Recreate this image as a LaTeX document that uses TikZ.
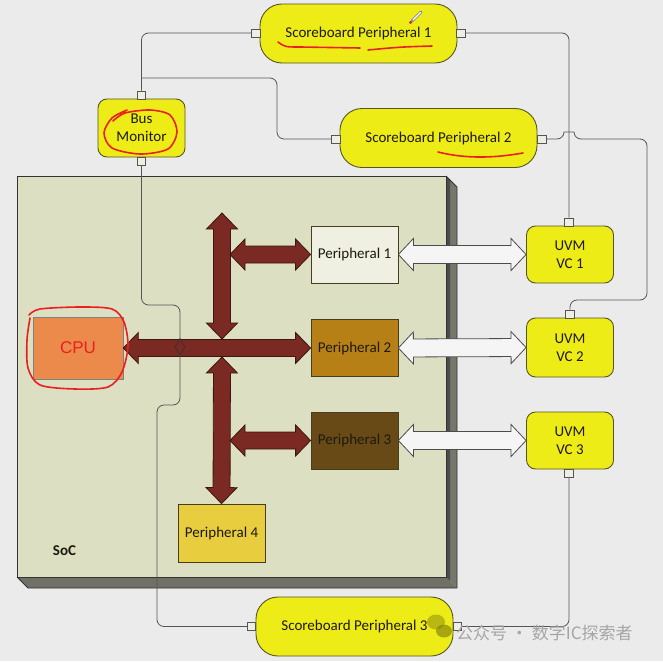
\documentclass[tikz,border=0pt]{standalone}
\usepackage{fontspec}
\setmainfont{Carlito}
\newfontfamily\arialf{Liberation Sans}
\newfontfamily\cjkf{Noto Sans CJK SC}
\usetikzlibrary{calc,shapes.geometric}
\definecolor{bgc}{RGB}{235,235,235}
\definecolor{yel}{RGB}{238,236,22}
\definecolor{yelb}{RGB}{85,85,40}
\definecolor{socface}{RGB}{220,223,193}
\definecolor{socside}{RGB}{118,118,106}
\definecolor{socbot}{RGB}{112,112,102}
\definecolor{pbord}{RGB}{70,60,30}
\definecolor{pone}{RGB}{240,240,226}
\definecolor{ptwo}{RGB}{183,128,22}
\definecolor{pthree}{RGB}{104,74,22}
\definecolor{pfour}{RGB}{232,205,62}
\definecolor{cpuc}{RGB}{236,138,76}
\definecolor{busc}{RGB}{122,42,34}
\definecolor{busb}{RGB}{60,22,16}
\definecolor{redann}{RGB}{232,32,30}
\definecolor{wirec}{RGB}{85,85,85}
\definecolor{txt}{RGB}{30,25,15}
\definecolor{portc}{RGB}{238,238,228}
\definecolor{wmc}{RGB}{165,165,165}
\newcommand\fatarr[6]{%
 \draw[#1] (#2) -- ($($(#2)!#6!(#3)$)!#5!90:(#3)$) -- ($($(#2)!#6!(#3)$)!#4!90:(#3)$)
 -- ($($(#3)!#6!(#2)$)!#4!-90:(#2)$) -- ($($(#3)!#6!(#2)$)!#5!-90:(#2)$) -- (#3)
 -- ($($(#3)!#6!(#2)$)!#5!90:(#2)$) -- ($($(#3)!#6!(#2)$)!#4!90:(#2)$)
 -- ($($(#2)!#6!(#3)$)!#4!-90:(#3)$) -- ($($(#2)!#6!(#3)$)!#5!-90:(#3)$) -- cycle;}
\begin{document}
\begin{tikzpicture}[x=1pt,y=-1pt,
  lbl/.style={font=\fontsize{15}{18}\selectfont, text=txt, align=center, inner sep=0},
  sbox/.style={lbl, draw=yelb, fill=yel, line width=0.9pt, rounded corners=22pt, minimum width=197, minimum height=59},
  ybox/.style={lbl, draw=yelb, fill=yel, line width=0.9pt, rounded corners=9pt, minimum width=87, minimum height=57},
  pbox/.style={lbl, draw=pbord, line width=0.8pt, minimum width=87, minimum height=57},
  port/.style={draw=wirec, fill=portc, line width=0.6pt, minimum width=8.5, minimum height=8, inner sep=0},
  wire/.style={draw=wirec, line width=0.8pt, rounded corners=7pt},
  busarrow/.style={fill=busc, draw=busb, line width=0.8pt, line join=miter},
  whitearrow/.style={fill=white!96!black, draw=black!70, line width=0.8pt, line join=miter},
  ann/.style={draw=redann, line width=1.6pt, line cap=round, line join=round}]
\useasboundingbox (0,0) rectangle (663,661);
\fill[bgc] (0,0) rectangle (663,661);
% SoC block
\fill[socside] (446,176) -- (457,187) -- (457,588) -- (446,577) -- cycle;
\fill[black!70] (446,176) -- (450,180) -- (450,581) -- (446,577) -- cycle;
\fill[socbot] (17,577) -- (446,577) -- (457,588) -- (28,588) -- cycle;
\draw[black!80, line width=0.8pt] (446,176) -- (457,187) -- (457,588) -- (28,588) -- (17,577);
\draw[black!85, line width=1.2pt] (446,176) -- (446,577);
\node[draw=black!80, fill=socface, line width=0.8pt, minimum width=429, minimum height=401, inner sep=0] (soc) at (231.5,376.5) {};
\node[font=\bfseries\fontsize{15}{18}\selectfont, text=txt, inner sep=0] (soclbl) at (64.5,551) {SoC};
% boxes
\node[sbox] (sp1) at (358.5,33.5) {Scoreboard Peripheral 1};
\node[sbox] (sp2) at (438.5,138) {Scoreboard Peripheral 2};
\node[sbox] (sp3) at (354.5,626.5) {Scoreboard Peripheral 3};
\node[ybox, minimum height=58] (bm) at (141.5,128) {Bus\\Monitor};
\node[ybox] (vc1) at (570,254.5) {UVM\\VC 1};
\node[ybox, minimum height=59] (vc2) at (570,347.5) {UVM\\VC 2};
\node[ybox] (vc3) at (570,440.5) {UVM\\VC 3};
\node[pbox, fill=pone] (p1) at (354.5,254.5) {Peripheral 1};
\node[pbox, fill=ptwo] (p2) at (354.5,348) {Peripheral 2};
\node[pbox, fill=pthree] (p3) at (354.5,440.5) {Peripheral 3};
\node[pbox, fill=pfour, minimum height=58] (p4) at (221.5,533) {Peripheral 4};
\node[draw=black!50, fill=cpuc, line width=0.6pt, minimum width=90, minimum height=62, inner sep=0,
  font=\arialf\fontsize{17}{20}\selectfont, text=redann] (cpu) at (78,348) {CPU};
% ports
\node[port] (sp1L) at (256,33) {};
\node[port] (sp1R) at (461,33) {};
\node[port] (sp2L) at (336,139) {};
\node[port] (sp2R) at (542,139) {};
\node[port] (sp3L) at (251.5,626.5) {};
\node[port] (sp3R) at (457.5,626.5) {};
\node[port] (bmT) at (141.5,95) {};
\node[port] (bmB) at (141.5,161) {};
\node[port] (vc1T) at (569,222) {};
\node[port] (vc2T) at (570,314) {};
\node[port] (vc3B) at (569,473.5) {};
% bus arrows
\coordinate (busTop) at (222,213);
\coordinate (busUp) at (222,339);
\coordinate (busDn) at (222,357);
\coordinate (b1) at (230,254.5);
\coordinate (b3) at (230,440.5);
\fatarr{busarrow}{cpu.east}{p2.west}{8.5pt}{15.5pt}{15pt}
\fatarr{busarrow}{busTop}{busUp}{8.5pt}{15.5pt}{16pt}
\fatarr{busarrow}{busDn}{p4.north}{8.5pt}{15.5pt}{16pt}
\fatarr{busarrow}{b1}{p1.west}{8.5pt}{15.5pt}{15pt}
\fatarr{busarrow}{b3}{p3.west}{8.5pt}{15.5pt}{15pt}
% white arrows
\fatarr{whitearrow}{p1.east}{vc1.west}{9pt}{16pt}{15pt}
\fatarr{whitearrow}{p2.east}{vc2.west}{9pt}{16pt}{15pt}
\fatarr{whitearrow}{p3.east}{vc3.west}{9pt}{16pt}{15pt}
% wires
\coordinate (j1) at (141.5,78);
\draw[wire] (bmT.north) |- (sp1L.west);
\draw[wire] (j1) -- (277,78) -- (277,139) -- (sp2L.west);
\draw[wire] (sp1R.east) -| (vc1T.north);
\draw[wire] (sp2R.east) -- (564,139) .. controls (564,132) and (574,132) .. (574,139)
  -- (647,139) -- (647,300) -- (570,300) -- (vc2T.north);
\draw[wire] (vc3B.south) |- (sp3R.east);
\draw[wire] (bmB.south) -- (141.5,305) -- (180,305) -- (180,405) -- (157,405) -- (157,626.5) -- (sp3L.west);
\node[diamond, draw=black!80, fill=busc, line width=0.7pt, inner sep=0, minimum width=10, minimum height=17] (dia) at (180,347) {};
% red annotations
\draw[ann] (278,42) .. controls (285,47) .. (300,47) -- (360,48);
\draw[ann] (368,50) .. controls (400,47) .. (432,46);
\draw[ann] plot[smooth] coordinates {(127,110) (112,118) (104,133) (112,148) (140,154) (168,149) (177,132) (170,115) (150,110) (125,113) (113,121)};
\draw[ann] (438,152) .. controls (470,160) and (500,157) .. (523,153);
\draw[ann] plot[smooth] coordinates {(29,315) (40,309) (80,307) (112,309) (124,322) (128,346) (122,372) (108,387) (75,389) (40,385) (28,368) (27,340) (30,318)};
% pen cursor
\draw[line width=3pt, black!45, line cap=round] (412,21) -- (421,12);
\draw[line width=1.4pt, white, line cap=round] (413,20) -- (420.5,12.5);
\fill[redann] (410.5,22.5) circle (1.6pt);
% watermark
\fill[black!40!yel, opacity=0.55] (436,622) ellipse (9pt and 7.5pt);
\fill[black!45!yel, opacity=0.65] (444,631) ellipse (8pt and 6.5pt);
\node[anchor=west, inner sep=0, font=\cjkf\fontsize{17}{20}\selectfont, text=wmc] (wm) at (456,633) {公众号 · 数字IC探索者};
\end{tikzpicture}
\end{document}
